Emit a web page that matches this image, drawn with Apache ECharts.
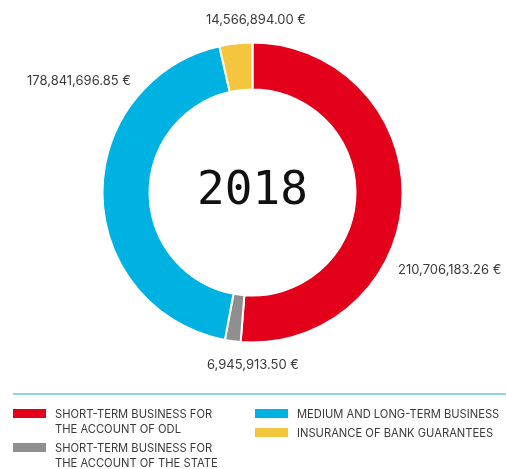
<!DOCTYPE html>
<html><head><meta charset="utf-8">
<script src="https://cdn.jsdelivr.net/npm/echarts@6/dist/echarts.min.js"></script>
<style>html,body{margin:0;padding:0;background:#fff}#c{width:506px;height:469px}</style>
</head><body><div id="c"></div>
<script>
const categories = [
  'SHORT-TERM BUSINESS FOR\nTHE ACCOUNT OF ODL',
  'SHORT-TERM BUSINESS FOR\nTHE ACCOUNT OF THE STATE',
  'MEDIUM AND LONG-TERM BUSINESS',
  'INSURANCE OF BANK GUARANTEES'
];
const values = [210706183.26, 6945913.50, 178841696.85, 14566894.00];
const colors = ['#E2001A', '#8F8F8F', '#00B2E2', '#F4C53F'];
const yearLabel = '2018';

function fmt(v){
  return v.toLocaleString('en-US',{minimumFractionDigits:2,maximumFractionDigits:2}) + ' €';
}

// label anchor placement (layout only)
const labelPos = [
  {x: 398, y: 270, align: 'left'},
  {x: 253, y: 365, align: 'center'},
  {x: 131, y: 81, align: 'right'},
  {x: 256, y: 20, align: 'center'}
];
// legend layout slots
const legendSlots = [
  {x: 13, y: 409}, {x: 13, y: 443}, {x: 255, y: 409}, {x: 255, y: 428}
];

const FONT = 'Inter, Roboto, sans-serif';
const chart = echarts.init(document.getElementById('c'), null, {renderer:'canvas'});

const legendGraphics = categories.map((name, i) => ({
  type: 'group',
  x: legendSlots[i].x, y: legendSlots[i].y,
  children: [
    {type: 'rect', shape: {x: 0, y: 0, width: 33, height: 9}, style: {fill: colors[i]}},
    {type: 'text', x: 42, y: -1.5, style: {text: name, font: '11.2px ' + FONT, lineHeight: 15, fill: '#3a3a3a', verticalAlign: 'top'}}
  ]
}));

chart.setOption({
  animation: false,
  color: colors,
  series: [{
    type: 'pie',
    center: [252.5, 192.5],
    radius: [103, 150],
    startAngle: 90,
    clockwise: true,
    data: categories.map((n, i) => ({name: n, value: values[i]})),
    itemStyle: {borderColor: '#fff', borderWidth: 2},
    label: {
      show: true, position: 'outside', overflow: 'none',
      formatter: p => fmt(p.value),
      color: '#3a3a3a', fontSize: 13, fontFamily: FONT
    },
    labelLine: {show: false},
    labelLayout: p => ({x: labelPos[p.dataIndex].x, y: labelPos[p.dataIndex].y, align: labelPos[p.dataIndex].align, verticalAlign: 'middle', width: 200}),
    emphasis: {disabled: true}
  }],
  graphic: [
    {type: 'text', x: 252.5, y: 192.5, style: {text: yearLabel, font: '46px "DejaVu Sans Mono", monospace', fill: '#111', align: 'center', verticalAlign: 'middle'}},
    {type: 'line', shape: {x1: 13, y1: 394, x2: 506, y2: 394}, style: {stroke: '#5CC8EC', lineWidth: 1.5}},
    ...legendGraphics
  ]
});
</script></body></html>
